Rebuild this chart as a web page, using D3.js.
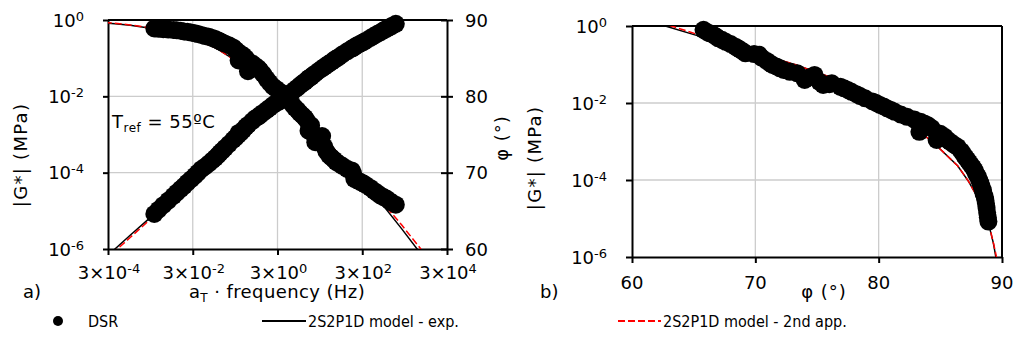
<!DOCTYPE html>
<html><head><meta charset="utf-8">
<script src="https://cdn.jsdelivr.net/npm/d3@7"></script>
<style>
html,body{margin:0;padding:0;background:#fff;}
text{font-family:"DejaVu Sans",Verdana,sans-serif;fill:#000;}
.leg{font-family:"DejaVu Sans Condensed","DejaVu Sans",sans-serif;font-stretch:condensed;}
</style></head>
<body><svg id="c" width="1015" height="343"></svg>
<script>
// ---- DSR data (shifted master curve, Tref = 55 ºC) ----
const freqHz = [3.72e-3,4.68e-3,6.03e-3,7.94e-3,1.05e-2,1.26e-2,1.55e-2,1.86e-2,2.24e-2,2.75e-2,
  3.39e-2,3.98e-2,4.79e-2,5.89e-2,7.24e-2,8.71e-2,0.102,0.117,0.132,0.151,
  0.174,0.214,0.269,0.309,0.355,0.407,0.468,0.537,0.363,0.603,
  0.759,0.891,1.05,1.17,1.38,1.66,1.95,2.34,2.75,3.24,
  3.80,4.37,5.01,5.62,6.76,7.76,8.91,10.2,11.7,13.2,
  14.5,16.2,17.4,18.6,20.4,23.4,28.2,33.9,38.0,42.7,
  49.0,56.2,64.6,72.4,83.2,102,132,170,182,195,
  229,269,316,363,468,575,692,813,955,1120,1320,1480,1860];
const gStarMPa = [8.32e-6,1.07e-5,1.41e-5,1.86e-5,2.45e-5,3.02e-5,3.72e-5,4.47e-5,5.50e-5,6.76e-5,
  8.32e-5,1.00e-4,1.23e-4,1.45e-4,1.74e-4,2.09e-4,2.45e-4,2.82e-4,3.31e-4,3.80e-4,
  4.47e-4,5.62e-4,7.24e-4,8.32e-4,9.77e-4,1.12e-3,1.32e-3,1.58e-3,1.10e-3,1.78e-3,
  2.24e-3,2.63e-3,2.95e-3,3.24e-3,3.72e-3,4.37e-3,5.01e-3,5.89e-3,6.61e-3,7.24e-3,
  8.13e-3,8.91e-3,1.00e-2,1.10e-2,1.32e-2,1.51e-2,1.70e-2,1.95e-2,2.19e-2,2.40e-2,
  2.63e-2,2.95e-2,3.09e-2,3.24e-2,3.55e-2,3.98e-2,4.68e-2,5.37e-2,5.89e-2,6.46e-2,
  7.24e-2,7.94e-2,8.91e-2,9.77e-2,0.107,0.126,0.151,0.178,0.186,0.195,
  0.219,0.240,0.263,0.288,0.339,0.389,0.437,0.479,0.537,0.589,0.646,0.692,0.794];
const phaseDeg = [88.9,88.85,88.8,88.75,88.7,88.65,88.6,88.5,88.45,88.35,
  88.25,88.15,88.05,87.9,87.8,87.65,87.5,87.35,87.2,87.05,
  86.9,86.7,86.4,86.1,85.8,85.55,85.35,85.0,84.7,83.3,
  84.3,84.0,83.7,83.4,82.9,82.3,81.8,81.3,81.0,80.7,
  80.4,80.1,79.8,79.5,78.9,78.5,78.2,77.8,77.5,77.2,
  76.9,75.5,76.0,76.2,75.2,74.0,74.4,74.8,73.4,72.8,
  72.3,72.0,71.7,71.4,71.2,70.9,70.5,70.3,69.9,69.2,
  69.0,68.8,68.6,68.4,68.0,67.6,67.3,67.0,66.8,66.6,66.3,66.1,65.8];

// ---- 2S2P1D model - exp. ----
const modelExpFreq  = [2.51e-4,4.37e-4,1e-3,2.51e-3,6.31e-3,1.58e-2,3.98e-2,0.1,0.251,0.631,1.58,3.98,10,25.1,63.1,158,398,1000,2512,6310,31600];
const modelExpG     = [5.75e-7,1.0e-6,2.29e-6,5.62e-6,1.41e-5,3.63e-5,9.12e-5,2.34e-4,6.31e-4,1.66e-3,4.27e-3,1.07e-2,2.51e-2,5.01e-2,0.1,0.178,0.316,0.537,1.0,1.78,5.01];
const modelExpPhase = [89.6,89.5,89.3,89.0,88.6,88.0,87.3,86.4,85.0,83.5,81.7,80.0,78.0,75.8,73.2,70.5,67.8,65.5,62.7,59.8,55.0];
// ---- 2S2P1D model - 2nd app. ----
const model2ndFreq  = [2.51e-4,5.01e-4,1e-3,2.51e-3,6.31e-3,1.58e-2,3.98e-2,0.1,0.251,0.631,1.58,3.98,10,25.1,63.1,158,398,1000,2512,7240,31600];
const model2ndG     = [5.01e-7,1.0e-6,2.0e-6,5.01e-6,1.32e-5,3.63e-5,9.12e-5,2.34e-4,6.31e-4,1.66e-3,4.27e-3,1.07e-2,2.51e-2,5.01e-2,0.1,0.178,0.316,0.537,1.0,2.0,5.01];
const model2ndPhase = [89.65,89.55,89.35,89.05,88.6,88.0,87.3,86.4,85.0,83.5,81.7,80.0,78.0,75.8,73.2,70.5,67.9,65.8,63.2,60.0,56.5];

// ---- ticks ----
const freqTicks = [3e-4,3e-2,3,300,3e4];
const freqTickExp = ["-4","-2","0","2","4"];
const gTicks = [1e-6,1e-4,1e-2,1];
const gTickExp = ["-6","-4","-2","0"];
const phaseTicks = [60,70,80,90];

const svg = d3.select("#c");
svg.append("rect").attr("width",1015).attr("height",343).attr("fill","#fff");
const FS = 18, GRID = "#cccccc";

function supLabel(sel, x, y, base, exp, anchor){
  const t = sel.append("text").attr("x",x).attr("y",y).attr("text-anchor",anchor).style("font-size",FS+"px");
  t.append("tspan").text(base);
  t.append("tspan").attr("dy",-6).style("font-size","13px").text(exp);
  return t;
}
function styleAxis(g){
  g.select(".domain").attr("stroke","#000").attr("stroke-width",2);
  g.selectAll(".tick line").attr("stroke","#000").attr("stroke-width",2);
}

// ================= LEFT CHART =================
const L = {x0:108,x1:447,y0:20,y1:249};
const xL = d3.scaleLog().domain([3e-4,3e4]).range([L.x0,L.x1]);
const yLG = d3.scaleLog().domain([1e-6,1]).range([L.y1,L.y0]);
const yLP = d3.scaleLinear().domain([60,90]).range([L.y1,L.y0]);
const gl = svg.append("g");
gl.append("clipPath").attr("id","clipL").append("rect").attr("x",L.x0).attr("y",L.y0).attr("width",L.x1-L.x0).attr("height",L.y1-L.y0);
gl.selectAll(".vg").data(freqTicks.slice(1,-1)).enter().append("line")
  .attr("x1",d=>xL(d)).attr("x2",d=>xL(d)).attr("y1",L.y0).attr("y2",L.y1).attr("stroke",GRID).attr("stroke-width",1.3);
gl.selectAll(".hg").data(gTicks.slice(1,-1)).enter().append("line")
  .attr("y1",d=>yLG(d)).attr("y2",d=>yLG(d)).attr("x1",L.x0).attr("x2",L.x1).attr("stroke",GRID).attr("stroke-width",1.3);
gl.append("g").attr("transform",`translate(0,${L.y1})`)
  .call(d3.axisBottom(xL).tickValues(freqTicks).tickSize(6).tickSizeOuter(0).tickFormat("")).call(styleAxis);
gl.append("g").attr("transform",`translate(${L.x0},0)`)
  .call(d3.axisLeft(yLG).tickValues(gTicks).tickSize(5).tickSizeOuter(0).tickFormat("")).call(styleAxis);
const ra = gl.append("g").attr("transform",`translate(${L.x1},0)`)
  .call(d3.axisRight(yLP).tickValues(phaseTicks).tickSize(6).tickSizeOuter(0).tickFormat("")).call(styleAxis);
ra.selectAll(".tick line").attr("x1",-6);
gl.append("line").attr("x1",L.x0).attr("x2",L.x1).attr("y1",L.y0).attr("y2",L.y0).attr("stroke","#000").attr("stroke-width",2);
gTicks.forEach((v,i)=>supLabel(gl,84,yLG(v)+6.5,"10",gTickExp[i],"end"));
freqTicks.forEach((v,i)=>supLabel(gl,xL(v)+1,279,"3×10",freqTickExp[i],"middle"));
phaseTicks.forEach(v=>gl.append("text").attr("x",465).attr("y",yLP(v)+6.5).style("font-size",FS+"px").text(v));
const lineGF = d3.line().x(d=>xL(d[0])).y(d=>yLG(d[1]));
const linePF = d3.line().x(d=>xL(d[0])).y(d=>yLP(d[1]));
const expGF = modelExpFreq.map((f,i)=>[f,modelExpG[i]]);
const expPF = modelExpFreq.map((f,i)=>[f,modelExpPhase[i]]);
const secGF = model2ndFreq.map((f,i)=>[f,model2ndG[i]]);
const secPF = model2ndFreq.map((f,i)=>[f,model2ndPhase[i]]);
const ml = gl.append("g").attr("clip-path","url(#clipL)");
ml.append("path").attr("d",lineGF(expGF)).attr("fill","none").attr("stroke","#000").attr("stroke-width",1.5);
ml.append("path").attr("d",linePF(expPF)).attr("fill","none").attr("stroke","#000").attr("stroke-width",1.5);
ml.append("path").attr("d",lineGF(secGF)).attr("fill","none").attr("stroke","#ff0000").attr("stroke-width",1.5).attr("stroke-dasharray","7,3");
ml.append("path").attr("d",linePF(secPF)).attr("fill","none").attr("stroke","#ff0000").attr("stroke-width",1.5).attr("stroke-dasharray","7,3");
const R = 9;
gl.selectAll(".dg").data(freqHz).enter().append("circle")
  .attr("cx",(d)=>xL(d)).attr("cy",(d,i)=>yLG(gStarMPa[i])).attr("r",R).attr("fill","#000");
gl.selectAll(".dp").data(freqHz).enter().append("circle")
  .attr("cx",(d)=>xL(d)).attr("cy",(d,i)=>yLP(phaseDeg[i])).attr("r",R).attr("fill","#000");
gl.append("text").attr("transform","translate(27,155) rotate(-90)").attr("text-anchor","middle").style("font-size",FS+"px").style("letter-spacing","1.3px").text("|G*| (MPa)");
gl.append("text").attr("transform","translate(508,138) rotate(-90)").attr("text-anchor","middle").style("font-size",FS+"px").style("letter-spacing","1px").text("φ (°)");
const xt = gl.append("text").attr("x",277).attr("y",298).attr("text-anchor","middle").style("font-size",FS+"px").style("letter-spacing","0.4px");
xt.append("tspan").text("a");
xt.append("tspan").attr("dy",4).style("font-size","12px").text("T");
xt.append("tspan").attr("dy",-4).text(" · frequency (Hz)");
const tr = gl.append("text").attr("x",112).attr("y",128).style("font-size","18px").style("letter-spacing","0.5px");
tr.append("tspan").text("T");
tr.append("tspan").attr("dy",4).style("font-size","12px").text("ref");
tr.append("tspan").attr("dy",-4).text(" = 55ºC");
gl.append("text").attr("x",23).attr("y",298).style("font-size",FS+"px").text("a)");

// ================= RIGHT CHART =================
const Rr = {x0:632,x1:1002,y0:26,y1:257};
const xR = d3.scaleLinear().domain([60,90]).range([Rr.x0,Rr.x1]);
const yR = d3.scaleLog().domain([1e-6,1]).range([Rr.y1,Rr.y0]);
const gr = svg.append("g");
gr.append("clipPath").attr("id","clipR").append("rect").attr("x",Rr.x0).attr("y",Rr.y0).attr("width",Rr.x1-Rr.x0).attr("height",Rr.y1-Rr.y0);
gr.selectAll(".vg").data(phaseTicks.slice(1,-1)).enter().append("line")
  .attr("x1",d=>xR(d)).attr("x2",d=>xR(d)).attr("y1",Rr.y0).attr("y2",Rr.y1).attr("stroke",GRID).attr("stroke-width",1.3);
gr.selectAll(".hg").data(gTicks.slice(1,-1)).enter().append("line")
  .attr("y1",d=>yR(d)).attr("y2",d=>yR(d)).attr("x1",Rr.x0).attr("x2",Rr.x1).attr("stroke",GRID).attr("stroke-width",1.3);
gr.append("g").attr("transform",`translate(0,${Rr.y1})`)
  .call(d3.axisBottom(xR).tickValues(phaseTicks).tickSize(6).tickSizeOuter(0).tickFormat("")).call(styleAxis);
gr.append("g").attr("transform",`translate(${Rr.x0},0)`)
  .call(d3.axisLeft(yR).tickValues(gTicks).tickSize(6).tickSizeOuter(0).tickFormat("")).call(styleAxis);
gr.append("line").attr("x1",Rr.x0).attr("x2",Rr.x1).attr("y1",Rr.y0).attr("y2",Rr.y0).attr("stroke","#000").attr("stroke-width",2);
gr.append("line").attr("x1",Rr.x1).attr("x2",Rr.x1).attr("y1",Rr.y0).attr("y2",Rr.y1).attr("stroke","#000").attr("stroke-width",2);
gTicks.forEach((v,i)=>supLabel(gr,607,yR(v)+6.5,"10",gTickExp[i],"end"));
phaseTicks.forEach(v=>gr.append("text").attr("x",xR(v)).attr("y",289).attr("text-anchor","middle").style("font-size",FS+"px").text(v));
const lineB = d3.line().x(d=>xR(d[0])).y(d=>yR(d[1]));
const mr = gr.append("g").attr("clip-path","url(#clipR)");
mr.append("path").attr("d",lineB(modelExpPhase.map((p,i)=>[p,modelExpG[i]]))).attr("fill","none").attr("stroke","#000").attr("stroke-width",1.5);
mr.append("path").attr("d",lineB(model2ndPhase.map((p,i)=>[p,model2ndG[i]]))).attr("fill","none").attr("stroke","#ff0000").attr("stroke-width",1.5).attr("stroke-dasharray","7,3");
gr.selectAll(".db").data(phaseDeg).enter().append("circle")
  .attr("cx",d=>xR(d)).attr("cy",(d,i)=>yR(gStarMPa[i])).attr("r",R).attr("fill","#000");
gr.append("text").attr("transform","translate(541,158) rotate(-90)").attr("text-anchor","middle").style("font-size",FS+"px").style("letter-spacing","1.3px").text("|G*| (MPa)");
gr.append("text").attr("x",824).attr("y",298).attr("text-anchor","middle").style("font-size",FS+"px").style("letter-spacing","1px").text("φ (°)");
gr.append("text").attr("x",540).attr("y",298).style("font-size",FS+"px").text("b)");

// ================= LEGEND =================
const lg = svg.append("g");
const LY = 321;
lg.append("circle").attr("cx",58).attr("cy",LY).attr("r",5).attr("fill","#000");
lg.append("text").attr("class","leg").attr("x",88).attr("y",LY+6).style("font-size","16px").text("DSR");
lg.append("line").attr("x1",262).attr("x2",306).attr("y1",LY).attr("y2",LY).attr("stroke","#000").attr("stroke-width",2);
lg.append("text").attr("class","leg").attr("x",308).attr("y",LY+6).style("font-size","16px").text("2S2P1D model - exp.");
lg.append("line").attr("x1",618).attr("x2",661).attr("y1",LY).attr("y2",LY).attr("stroke","#ff0000").attr("stroke-width",2).attr("stroke-dasharray","7,3");
lg.append("text").attr("class","leg").attr("x",663).attr("y",LY+6).style("font-size","16px").text("2S2P1D model - 2nd app.");
</script></body></html>
